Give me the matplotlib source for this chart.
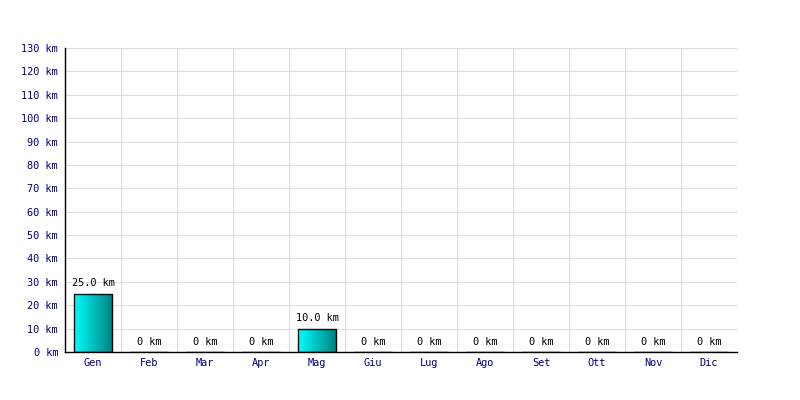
import numpy as np
import matplotlib.pyplot as plt

mesi = ['Gen', 'Feb', 'Mar', 'Apr', 'Mag', 'Giu', 'Lug', 'Ago', 'Set', 'Ott', 'Nov', 'Dic']
km = [25.0, 0, 0, 0, 10.0, 0, 0, 0, 0, 0, 0, 0]
yticks = list(range(0, 140, 10))

plt.rcParams['font.family'] = 'DejaVu Sans Mono'
plt.rcParams['font.size'] = 7.4

fig = plt.figure(figsize=(8, 4), dpi=100)
ax = fig.add_axes([65 / 800, 48 / 400, 672 / 800, 304 / 400])

x = np.arange(len(mesi))
ax.set_xlim(-0.5, len(mesi) - 0.5)
ax.set_ylim(0, 130)

# sfumatura ciano -> verde acqua
grad = np.linspace(0, 1, 256).reshape(1, -1)
cmap = plt.matplotlib.colors.LinearSegmentedColormap.from_list('c', ['#00ffff', '#008080'])

w = 0.68
bars = ax.bar(x, km, width=w, color='none', edgecolor='black', linewidth=1, zorder=3)
for b, v in zip(bars, km):
    if v > 0:
        x0 = b.get_x()
        im = ax.imshow(grad, cmap=cmap, aspect='auto', extent=(x0, x0 + w, 0, v), zorder=2)
        im.set_clip_path(b)
    lab = '%.1f km' % v if v > 0 else '0 km'
    ax.text(b.get_x() + w / 2, v + 2.3, lab, ha='center', va='bottom', color='black')

ax.set_xlim(-0.5, len(mesi) - 0.5)
ax.set_ylim(0, 130)
ax.set_xticks(x)
ax.set_xticklabels(mesi, color='#000080')
ax.set_yticks(yticks)
ax.set_yticklabels(['%d km' % t for t in yticks], color='#000080')
ax.set_xticks(np.arange(len(mesi) + 1) - 0.5, minor=True)
ax.tick_params(axis='both', which='both', length=0)
ax.tick_params(axis='y', pad=5)
ax.tick_params(axis='x', pad=4)
ax.grid(True, which='minor', axis='x', color='#dddddd', linewidth=0.75, zorder=0)
ax.grid(True, which='major', axis='y', color='#dddddd', linewidth=0.75, zorder=0)
ax.set_axisbelow(True)
for s in ['top', 'right']:
    ax.spines[s].set_visible(False)
ax.spines['left'].set_linewidth(1)
ax.spines['bottom'].set_linewidth(1)

fig.savefig('out.png', dpi=100)
